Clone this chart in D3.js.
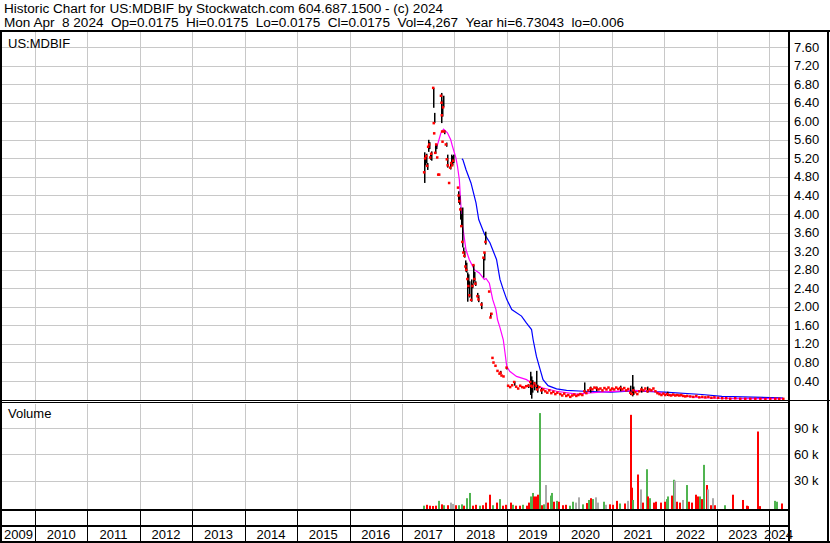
<!DOCTYPE html>
<html><head><meta charset="utf-8">
<script src="https://cdn.jsdelivr.net/npm/d3@7"></script>
<style>
body{margin:0;background:#fff}
svg{display:block}
text{font-family:"Liberation Sans",Arial,sans-serif;fill:#000;white-space:pre}
</style>
</head><body>
<svg id="c" width="830" height="543"></svg>
<script>
// ---------- DATA ----------
const headerLine1 = "Historic Chart for US:MDBIF by Stockwatch.com 604.687.1500 - (c) 2024";
const headerLine2 = "Mon Apr  8 2024  Op=0.0175  Hi=0.0175  Lo=0.0175  Cl=0.0175  Vol=4,267  Year hi=6.73043  lo=0.006";
const symbolLabel = "US:MDBIF";
const volumeLabel = "Volume";

const priceTicks = [0.4,0.8,1.2,1.6,2.0,2.4,2.8,3.2,3.6,4.0,4.4,4.8,5.2,5.6,6.0,6.4,6.8,7.2,7.6];
const volumeTicks = [30000,60000,90000];
const volumeTickLabels = ["30 k","60 k","90 k"];
const yearLabels = [2009,2010,2011,2012,2013,2014,2015,2016,2017,2018,2019,2020,2021,2022,2023,2024];

const priceDates = [
"2017-06-02","2017-06-09","2017-06-16","2017-06-23","2017-06-30","2017-07-07","2017-07-14","2017-07-21",
"2017-08-04","2017-08-08","2017-08-11","2017-08-18","2017-08-25","2017-09-01","2017-09-08","2017-09-15",
"2017-09-27","2017-10-01","2017-10-03","2017-10-05","2017-10-08","2017-10-12","2017-10-19","2017-10-31",
"2017-11-07","2017-11-13","2017-11-23","2017-11-30","2017-12-07","2017-12-14","2017-12-21",
"2018-01-24","2018-01-28","2018-02-02","2018-02-09","2018-02-16","2018-02-23","2018-03-02","2018-03-09",
"2018-03-16","2018-03-23","2018-03-30","2018-04-06","2018-04-13","2018-04-25","2018-05-04","2018-05-11",
"2018-05-18","2018-05-25","2018-06-08","2018-06-15","2018-07-06","2018-07-20","2018-07-27","2018-08-03",
"2018-08-29","2018-09-07","2018-09-14","2018-09-21","2018-09-28","2018-10-12","2018-10-26","2018-11-09",
"2018-11-16","2018-11-23","2018-12-07","2018-12-28",
"2019-01-08","2019-01-22","2019-02-05","2019-02-19","2019-03-05","2019-03-19","2019-04-02","2019-04-16",
"2019-04-30","2019-05-14","2019-05-28","2019-06-11","2019-06-18","2019-06-25","2019-07-09","2019-07-20",
"2019-07-30","2019-08-13","2019-08-27","2019-09-10","2019-09-24","2019-10-08","2019-10-22","2019-11-05",
"2019-11-19","2019-12-03","2019-12-17",
"2020-01-06","2020-01-20","2020-02-03","2020-02-17","2020-03-02","2020-03-16","2020-03-30","2020-04-13",
"2020-04-27","2020-05-11","2020-05-25","2020-06-08","2020-06-22","2020-07-06","2020-07-20","2020-08-03",
"2020-08-17","2020-08-31","2020-09-14","2020-09-28","2020-10-12","2020-10-26","2020-11-09","2020-11-23",
"2020-12-07","2020-12-21",
"2021-01-02","2021-01-16","2021-01-30","2021-02-13","2021-02-27","2021-03-13","2021-03-27","2021-04-10",
"2021-04-24","2021-05-08","2021-05-19","2021-05-29","2021-06-12","2021-06-26","2021-07-10","2021-07-24",
"2021-08-07","2021-08-21","2021-09-04","2021-09-18","2021-10-02","2021-10-16","2021-10-30","2021-11-13",
"2021-11-27","2021-12-11","2021-12-25",
"2022-01-06","2022-01-20","2022-02-03","2022-02-17","2022-03-03","2022-03-17","2022-03-31","2022-04-14",
"2022-04-28","2022-05-12","2022-05-26","2022-06-09","2022-06-30","2022-07-21","2022-08-11","2022-09-01",
"2022-09-22","2022-10-13","2022-11-03","2022-11-24","2022-12-15",
"2023-01-10","2023-02-07","2023-03-07","2023-04-04","2023-05-09","2023-06-13","2023-07-18","2023-08-22",
"2023-09-26","2023-10-31","2023-12-05",
"2024-01-08","2024-02-12","2024-03-11","2024-04-08"];
const priceHigh = [
5.33,5.25,5.30,5.10,5.60,5.55,5.30,5.35,
6.72,6.18,5.74,5.50,5.50,5.22,4.85,4.85,
6.61,6.45,6.30,5.78,5.56,6.55,5.80,5.54,
5.28,5.15,4.67,5.10,5.28,5.25,5.28,
4.57,4.49,4.40,4.14,4.00,4.14,3.28,3.20,
3.00,2.95,2.74,2.70,2.55,2.59,2.50,2.90,
2.75,2.55,2.30,2.25,2.10,3.06,3.17,3.62,
2.33,1.87,1.85,0.90,0.80,0.73,0.62,0.56,
0.62,0.52,0.50,0.70,
0.30,0.27,0.31,0.39,0.28,0.24,0.30,0.27,
0.26,0.29,0.33,0.60,0.50,0.42,0.38,0.62,
0.32,0.27,0.25,0.22,0.18,0.15,0.20,0.14,
0.17,0.12,0.15,
0.12,0.09,0.13,0.08,0.10,0.06,0.09,0.11,
0.08,0.10,0.12,0.10,0.37,0.14,0.20,0.28,
0.22,0.26,0.28,0.22,0.24,0.20,0.25,0.22,
0.26,0.21,
0.24,0.22,0.26,0.23,0.30,0.22,0.25,0.20,
0.23,0.30,0.53,0.28,0.16,0.12,0.18,0.28,
0.20,0.24,0.28,0.22,0.20,0.24,0.18,0.14,
0.12,0.10,0.13,
0.10,0.17,0.10,0.09,0.11,0.09,0.10,0.09,
0.10,0.08,0.07,0.08,0.07,0.06,0.08,0.05,
0.06,0.05,0.06,0.04,0.05,
0.04,0.03,0.03,0.02,0.03,0.02,0.02,0.02,
0.02,0.02,0.015,
0.02,0.02,0.018,0.0175];
const priceLow = [
4.67,5.05,5.10,4.95,5.34,5.40,5.17,5.15,
6.29,5.96,5.74,5.30,5.40,5.22,4.85,4.85,
5.96,6.20,6.10,5.78,5.56,6.30,5.72,5.45,
5.14,5.00,4.67,4.96,5.05,5.05,5.10,
4.57,4.24,4.20,3.88,3.74,3.28,3.17,3.06,
2.76,2.74,2.11,2.40,2.20,2.11,2.40,2.50,
2.55,2.45,2.20,2.10,1.95,2.63,3.00,3.34,
2.33,1.77,1.85,0.90,0.80,0.73,0.62,0.56,
0.55,0.52,0.50,0.65,
0.30,0.27,0.31,0.30,0.28,0.24,0.30,0.27,
0.26,0.29,0.25,0.10,0.02,0.15,0.20,0.22,
0.15,0.27,0.12,0.22,0.18,0.15,0.20,0.14,
0.17,0.12,0.15,
0.12,0.09,0.13,0.08,0.10,0.06,0.09,0.11,
0.08,0.10,0.12,0.10,0.15,0.14,0.20,0.15,
0.22,0.26,0.18,0.22,0.24,0.20,0.25,0.22,
0.26,0.21,
0.24,0.22,0.26,0.23,0.18,0.22,0.25,0.20,
0.23,0.10,0.07,0.10,0.16,0.12,0.18,0.15,
0.20,0.24,0.15,0.22,0.20,0.24,0.18,0.14,
0.12,0.10,0.13,
0.10,0.08,0.10,0.09,0.11,0.09,0.10,0.09,
0.10,0.08,0.07,0.08,0.07,0.06,0.08,0.05,
0.06,0.05,0.06,0.04,0.05,
0.04,0.03,0.03,0.02,0.03,0.02,0.02,0.02,
0.02,0.02,0.015,
0.02,0.02,0.018,0.0175];
const priceClose = [
4.90,5.20,5.25,5.04,5.45,5.50,5.22,5.30,
6.72,5.96,5.74,5.32,5.50,5.22,4.85,4.85,
6.55,6.40,6.13,5.78,5.56,6.30,5.78,5.50,
5.18,5.05,4.67,5.00,5.10,5.05,5.15,
4.57,4.40,4.28,4.10,3.74,3.40,3.17,3.10,
2.87,2.80,2.60,2.45,2.25,2.15,2.45,2.90,
2.60,2.50,2.23,2.16,2.05,3.06,3.17,3.40,
2.33,1.77,1.85,0.90,0.80,0.73,0.62,0.56,
0.58,0.52,0.50,0.69,
0.30,0.27,0.31,0.38,0.28,0.24,0.30,0.27,
0.26,0.29,0.30,0.38,0.30,0.28,0.35,0.30,
0.22,0.27,0.20,0.22,0.18,0.15,0.20,0.14,
0.17,0.12,0.15,
0.12,0.09,0.13,0.08,0.10,0.06,0.09,0.11,
0.08,0.10,0.12,0.10,0.18,0.14,0.20,0.24,
0.22,0.26,0.25,0.22,0.24,0.20,0.25,0.22,
0.26,0.21,
0.24,0.22,0.26,0.23,0.25,0.22,0.25,0.20,
0.23,0.15,0.12,0.20,0.16,0.12,0.18,0.22,
0.20,0.24,0.18,0.22,0.20,0.24,0.18,0.14,
0.12,0.10,0.13,
0.10,0.12,0.10,0.09,0.11,0.09,0.10,0.09,
0.10,0.08,0.07,0.08,0.07,0.06,0.08,0.05,
0.06,0.05,0.06,0.04,0.05,
0.04,0.03,0.03,0.02,0.03,0.02,0.02,0.02,
0.02,0.02,0.015,
0.02,0.02,0.018,0.0175];

// short moving average (magenta)
const maShortDates = ["2017-08-18","2017-09-01","2017-09-28","2017-10-17","2017-11-13","2017-12-06","2017-12-18",
"2018-01-11","2018-01-22","2018-02-04","2018-02-15","2018-02-27","2018-03-22","2018-04-14","2018-05-19","2018-06-23",
"2018-07-28","2018-08-09","2018-09-01","2018-09-24","2018-10-17","2018-10-28","2018-11-14","2018-12-07","2018-12-19",
"2018-12-31","2019-01-21","2019-03-09","2019-05-18","2019-06-22","2019-07-26","2019-09-10","2019-12-13","2020-05-02",
"2020-07-11","2020-10-14","2021-06-03","2021-10-21","2022-01-26","2022-06-15","2022-09-22","2023-05-15","2024-04-08"];
const maShortValues = [5.42,5.45,5.74,5.83,5.75,5.60,5.46,
5.21,5.03,4.74,4.17,3.74,3.23,3.02,2.80,2.73,
2.59,2.61,2.51,2.16,1.94,1.72,1.55,1.29,1.01,
0.72,0.61,0.50,0.43,0.36,0.30,0.25,0.18,0.12,
0.14,0.16,0.20,0.18,0.11,0.07,0.04,0.02,0.02];

// long moving average (blue)
const maLongDates = ["2018-02-22","2018-03-01","2018-03-22","2018-04-26","2018-05-31","2018-06-19","2018-07-30",
"2018-09-05","2018-10-21","2018-11-14","2018-12-07","2018-12-31","2019-02-04","2019-04-13","2019-05-18","2019-06-22",
"2019-07-03","2019-07-26","2019-08-18","2019-09-10","2019-10-15","2019-12-13","2020-02-21","2020-06-19","2020-12-24",
"2021-06-03","2022-01-04","2022-09-22","2023-02-07","2024-03-20","2024-04-08"];
const maLongValues = [5.19,5.17,4.96,4.67,4.24,3.88,3.56,
3.38,3.02,2.59,2.37,2.16,1.94,1.80,1.65,1.51,
1.29,0.93,0.68,0.43,0.30,0.23,0.20,0.18,0.16,
0.19,0.16,0.11,0.07,0.04,0.03];

const volDates = ["2017-06-02","2017-06-21","2017-07-14","2017-08-06","2017-08-25","2017-09-17","2017-10-03","2017-10-22",
"2017-11-18","2017-12-07","2017-12-23","2018-01-11","2018-02-03","2018-02-20","2018-03-10","2018-03-27","2018-04-19",
"2018-05-12","2018-05-30","2018-06-27","2018-07-20","2018-08-08","2018-09-05","2018-09-24","2018-10-26","2018-11-14",
"2018-12-07","2018-12-25","2019-01-29","2019-02-14","2019-03-09","2019-04-01","2019-04-24","2019-05-18","2019-06-05",
"2019-06-17","2019-06-29","2019-07-08","2019-07-26","2019-08-07","2019-08-18","2019-09-06","2019-09-17","2019-10-04",
"2019-10-15","2019-11-01","2019-11-12","2019-11-26","2019-12-13","2020-01-01","2020-01-29","2020-02-20","2020-03-15",
"2020-04-07","2020-04-30","2020-05-18","2020-06-11","2020-07-09","2020-07-27","2020-08-12","2020-08-24","2020-09-16",
"2020-09-27","2020-11-06","2020-11-20","2020-12-18","2021-01-11","2021-02-07","2021-02-26","2021-04-04","2021-04-25",
"2021-05-14","2021-05-21","2021-05-30","2021-06-29","2021-07-22","2021-08-07","2021-08-31","2021-09-11","2021-09-23",
"2021-10-21","2021-11-04","2021-12-13","2022-01-07","2022-01-18","2022-01-30","2022-02-22","2022-03-10","2022-03-17",
"2022-03-29","2022-04-21","2022-05-14","2022-06-11","2022-06-25","2022-07-11","2022-08-10","2022-08-22","2022-09-07",
"2022-09-19","2022-10-05","2022-10-23","2022-11-04","2022-11-21","2022-12-09","2022-12-21","2023-03-01","2023-04-23",
"2023-07-02","2023-07-30","2023-08-10","2023-10-19","2023-10-31","2024-02-11","2024-02-23","2024-03-29"];
const volValues = [1500,2500,1500,1200,1500,7000,3000,2000,
2000,5000,3500,2000,2000,3000,1500,10000,16000,
1500,2500,1500,2000,5000,14000,2000,5000,9000,
1500,2500,5000,2500,1500,1500,2500,1500,5000,
12000,16000,12000,12000,14000,107000,2000,3000,25000,
5000,13000,16000,6000,7000,6000,2000,2500,1500,
6000,5000,11000,3000,4500,8000,10000,9000,11000,
5000,6000,2500,3000,2500,7000,4000,4000,7000,
105000,22000,8000,37000,20000,5000,43000,12000,10000,
5000,6000,5000,6000,9000,12000,13000,31000,30000,
6000,5000,8000,25000,6000,5000,14000,12000,12000,
9000,48000,25000,20000,2000,10000,2000,2000,14000,
8000,1500,1000,86000,1000,7000,6000,4000];
// u = close up (green), d = close down (red), n = unchanged (grey)
const volDir = ["u","d","d","d","d","u","d","u",
"d","n","n","d","u","u","d","u","u",
"d","d","u","d","d","d","u","d","u",
"d","d","d","u","d","d","u","d","d",
"u","u","d","d","d","u","d","u","n",
"d","u","u","d","u","d","d","d","u",
"u","n","n","u","d","u","d","u","n",
"n","u","n","d","d","d","u","d","n",
"d","d","u","d","n","d","u","d","u",
"d","d","d","d","u","u","d","u","n",
"d","d","n","u","d","d","d","d","u",
"d","u","d","n","d","n","d","u","d",
"d","d","d","d","d","u","u","d"];

// ---------- DRAW ----------
const parse = d3.timeParse("%Y-%m-%d");
const svg = d3.select("#c");
const W = 830, H = 543;
const plotL = 2, plotR = 788;
const priceTop = 32, priceBot = 400;
const volTop = 404, volBot = 509;

const x = d3.scaleTime().domain([new Date(2010,0,1), new Date(2024,0,1)]).range([35,769]);
const yP = d3.scaleLinear().domain([0,7.6]).range([399.6,47]);
const yV = d3.scaleLinear().domain([0,90000]).range([507,428]);

svg.append("rect").attr("width",W).attr("height",H).attr("fill","#fff");

const defs = svg.append("defs");
defs.append("clipPath").attr("id","cp").append("rect").attr("x",plotL).attr("y",priceTop).attr("width",plotR-plotL).attr("height",priceBot-priceTop);
defs.append("clipPath").attr("id","cv").append("rect").attr("x",plotL).attr("y",volTop).attr("width",plotR-plotL).attr("height",volBot-volTop);

const yearBounds = yearLabels.slice(1).map(y => new Date(y,0,1));
const grid = "#c8c8c8";

// grids
const gGrid = svg.append("g").attr("shape-rendering","crispEdges");
gGrid.selectAll(".hp").data(priceTicks).join("line")
  .attr("x1",plotL).attr("x2",plotR).attr("y1",d=>Math.round(yP(d))+0.5).attr("y2",d=>Math.round(yP(d))+0.5)
  .attr("stroke",grid);
gGrid.selectAll(".hv").data(volumeTicks).join("line")
  .attr("x1",plotL).attr("x2",plotR).attr("y1",d=>Math.round(yV(d))+0.5).attr("y2",d=>Math.round(yV(d))+0.5)
  .attr("stroke",grid);
yearBounds.forEach(d => {
  const xx = Math.round(x(d))+0.5;
  gGrid.append("line").attr("x1",xx).attr("x2",xx).attr("y1",priceTop).attr("y2",priceBot).attr("stroke",grid);
  gGrid.append("line").attr("x1",xx).attr("x2",xx).attr("y1",volTop).attr("y2",volBot).attr("stroke",grid);
  gGrid.append("line").attr("x1",xx).attr("x2",xx).attr("y1",510).attr("y2",543).attr("stroke","#000");
});

// price panel
const pData = priceDates.map((d,i)=>({date:parse(d),hi:priceHigh[i],lo:priceLow[i],cl:priceClose[i]}));
const gp = svg.append("g").attr("clip-path","url(#cp)");

const lineGen = d3.line().x(d=>x(d.date)).y(d=>yP(d.v));
gp.append("path").datum(maLongDates.map((d,i)=>({date:parse(d),v:maLongValues[i]})))
  .attr("d",lineGen).attr("fill","none").attr("stroke","#0000ff").attr("stroke-width",1.2);
gp.append("path").datum(maShortDates.map((d,i)=>({date:parse(d),v:maShortValues[i]})))
  .attr("d",lineGen).attr("fill","none").attr("stroke","#ff00ff").attr("stroke-width",1.2);

gp.selectAll(".bar").data(pData.filter(d=>d.hi>d.lo)).join("rect")
  .attr("x",d=>Math.round(x(d.date))).attr("width",1.5)
  .attr("y",d=>yP(d.hi)).attr("height",d=>Math.max(1,yP(d.lo)-yP(d.hi))).attr("fill","#000");
gp.selectAll(".cl").data(pData).join("rect")
  .attr("x",d=>x(d.date)-1).attr("y",d=>yP(d.cl)-1.2).attr("width",2.5).attr("height",2.5).attr("fill","#ff0000");

// volume panel
const vData = volDates.map((d,i)=>({date:parse(d),v:volValues[i],dir:volDir[i]}));
const vColor = {u:"#50b450",d:"#ff0000",n:"#aaaaaa"};
svg.append("g").attr("clip-path","url(#cv)").selectAll("rect").data(vData).join("rect")
  .attr("x",d=>Math.round(x(d.date))-1).attr("width",2)
  .attr("y",d=>yV(d.v)).attr("height",d=>volBot-yV(d.v)).attr("fill",d=>vColor[d.dir]);

// frame
const gF = svg.append("g").attr("fill","#000").attr("shape-rendering","crispEdges");
gF.append("rect").attr("x",0).attr("y",30).attr("width",W).attr("height",2);      // top
gF.append("rect").attr("x",0).attr("y",30).attr("width",2).attr("height",H-30);   // left
gF.append("rect").attr("x",827).attr("y",30).attr("width",2).attr("height",H-30); // right
gF.append("rect").attr("x",788).attr("y",30).attr("width",2).attr("height",H-30); // separator
gF.append("rect").attr("x",0).attr("y",400).attr("width",W).attr("height",1);
gF.append("rect").attr("x",0).attr("y",402).attr("width",789).attr("height",1);
gF.append("rect").attr("x",0).attr("y",509).attr("width",789).attr("height",2);
gF.append("rect").attr("x",0).attr("y",525).attr("width",789).attr("height",2);
gF.append("rect").attr("x",0).attr("y",541).attr("width",W).attr("height",2);

// texts
svg.append("text").attr("x",4).attr("y",13).attr("font-size",12)
  .attr("textLength",439).attr("lengthAdjust","spacingAndGlyphs").text(headerLine1);
svg.append("text").attr("x",4).attr("y",27).attr("font-size",12)
  .attr("textLength",620).attr("lengthAdjust","spacingAndGlyphs").text(headerLine2);
svg.append("text").attr("x",8).attr("y",48).attr("font-size",13).text(symbolLabel);
svg.append("text").attr("x",8).attr("y",418).attr("font-size",13).text(volumeLabel);

svg.selectAll(".pl").data(priceTicks).join("text")
  .attr("x",794).attr("y",d=>yP(d)+4.5).attr("font-size",13).text(d=>d.toFixed(2));
svg.selectAll(".vl").data(volumeTicks).join("text")
  .attr("x",794).attr("y",d=>yV(d)+4.5).attr("font-size",13).text((d,i)=>volumeTickLabels[i]);

const edges = [plotL, ...yearBounds.map(d=>x(d)), plotR];
svg.selectAll(".yl").data(yearLabels).join("text")
  .attr("x",(d,i)=>(edges[i]+edges[i+1])/2).attr("y",539).attr("font-size",13)
  .attr("text-anchor","middle").text(d=>d);
</script>
</body></html>
